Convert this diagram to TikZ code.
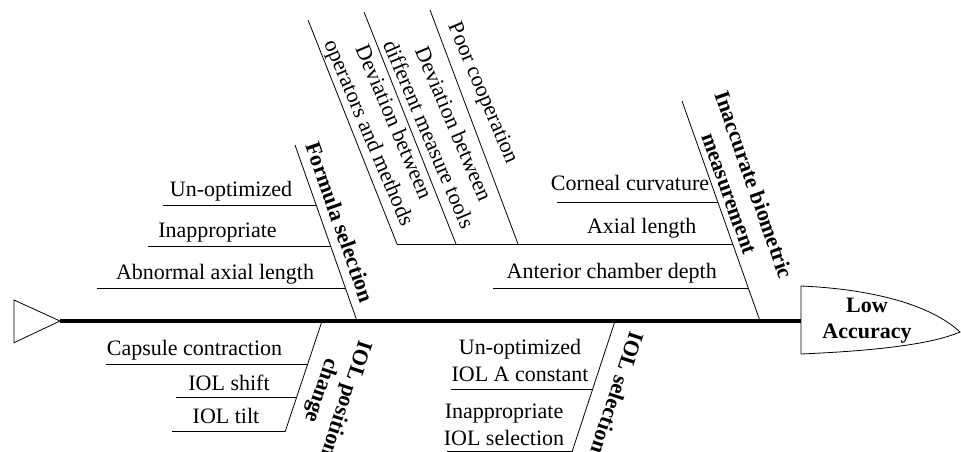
\documentclass[tikz,border=0pt]{standalone}
\usepackage{fontspec}
\setmainfont{Liberation Serif}
\tikzset{
	bone/.style={line width=0.8pt},
	cause/.style={anchor=base,inner sep=0pt,font=\fontsize{22}{27}\selectfont},
	twocause/.style={align=center,inner sep=0pt,font=\fontsize{22}{27}\selectfont},
	group/.style={align=center,inner sep=0pt,font=\bfseries\fontsize{22}{26}\selectfont},
}
\begin{document}
\begin{tikzpicture}[x=1pt,y=-1pt]
	\useasboundingbox (0,0) rectangle (961,452);
	\coordinate (tail) at (60,321);
	\coordinate (tailtop) at (14,300);
	\coordinate (tailbot) at (14,342.7);
	\coordinate (headtop) at (801,286);
	\coordinate (headbot) at (801,354);
	\coordinate (headtip) at (960,332);
	\coordinate (head) at (801,321);
	\draw[bone] (tail) -- (tailtop) -- (tailbot) -- cycle;
	\draw[line width=4pt] (tail) -- (head);
	\draw[bone] (headbot) -- (headtop) .. controls (870,289) and (930,304) .. (headtip) .. controls (930,345) and (870,351) .. (headbot);
	\node[group] (effect) at (867,321) {Low\\Accuracy};
	% formula selection
	\coordinate (fs1) at (295,145);
	\coordinate (fs2) at (357,321);
	\draw[bone] (fs1) -- (fs2);
	\node[group,rotate=-70.6] (fslabel) at (340,222) {Formula selection};
	\coordinate (fsa1) at (163,205); \coordinate (fsa2) at (316,205);
	\coordinate (fsb1) at (148,246); \coordinate (fsb2) at (330.5,246);
	\coordinate (fsc1) at (97,288); \coordinate (fsc2) at (345,288);
	\draw[bone] (fsa1) -- (fsa2);
	\draw[bone] (fsb1) -- (fsb2);
	\draw[bone] (fsc1) -- (fsc2);
	\node[cause] (fsa) at (231,196) {Un-optimized};
	\node[cause] (fsb) at (217.5,237) {Inappropriate};
	\node[cause] (fsc) at (215,279) {Abnormal axial length};
	% inaccurate biometric measurement
	\coordinate (bm1) at (682,101);
	\coordinate (bm2) at (760,321);
	\draw[bone] (bm1) -- (bm2);
	\node[group,rotate=-70.5] (bmlabel) at (742,189) {Inaccurate biometric\\measurement};
	\coordinate (bma1) at (557,202.7); \coordinate (bma2) at (718.3,202.7);
	\coordinate (bmb1) at (397,244); \coordinate (bmb2) at (733,244);
	\coordinate (bmc1) at (493,288); \coordinate (bmc2) at (748.6,288);
	\draw[bone] (bma1) -- (bma2);
	\draw[bone] (bmb1) -- (bmb2);
	\draw[bone] (bmc1) -- (bmc2);
	\node[cause] (bma) at (630,190.5) {Corneal curvature};
	\node[cause] (bmb) at (641.7,233.5) {Axial length};
	\node[cause] (bmc) at (611.7,278.5) {Anterior chamber depth};
	\coordinate (dv1) at (308,20);
	\coordinate (dv2) at (364,12);
	\coordinate (dv3) at (430,10);
	\coordinate (dw1) at (397,244);
	\coordinate (dw2) at (456,244);
	\coordinate (dw3) at (518,244);
	\draw[bone] (dv1) -- (dw1);
	\draw[bone] (dv2) -- (dw2);
	\draw[bone] (dv3) -- (dw3);
	\node[twocause,rotate=-67] (dva) at (380,128) {Deviation between\\operators and methods};
	\node[twocause,rotate=-67] (dvb) at (441.5,129) {Deviation between\\different measure tools};
	\node[twocause,rotate=-67] (dvc) at (482,93.5) {Poor cooperation};
	% IOL position change
	\coordinate (pc1) at (322,321);
	\coordinate (pc2) at (285,432);
	\draw[bone] (pc1) -- (pc2);
	\node[group,rotate=-108.4] (pclabel) at (333,394.5) {IOL position\\change};
	\coordinate (pca1) at (106,364); \coordinate (pca2) at (307.7,364);
	\coordinate (pcb1) at (176,397.7); \coordinate (pcb2) at (296.4,397.7);
	\coordinate (pcc1) at (172,431.7); \coordinate (pcc2) at (285,431.7);
	\draw[bone] (pca1) -- (pca2);
	\draw[bone] (pcb1) -- (pcb2);
	\draw[bone] (pcc1) -- (pcc2);
	\node[cause] (pca) at (194.5,355.7) {Capsule contraction};
	\node[cause] (pcb) at (229,390) {IOL shift};
	\node[cause] (pcc) at (226,423.3) {IOL tilt};
	% IOL selection
	\coordinate (is1) at (615,321);
	\coordinate (is2) at (572,452);
	\draw[bone] (is1) -- (is2);
	\node[group,rotate=-108.2] (islabel) at (617.5,393) {IOL selection};
	\coordinate (isa1) at (451,389); \coordinate (isa2) at (592.7,389);
	\coordinate (isb1) at (447,451); \coordinate (isb2) at (572.3,451);
	\draw[bone] (isa1) -- (isa2);
	\draw[bone] (isb1) -- (isb2);
	\node[twocause] (isa) at (520,360) {Un-optimized\\IOL A constant};
	\node[twocause] (isb) at (504,424.7) {Inappropriate\\IOL selection};
\end{tikzpicture}
\end{document}
